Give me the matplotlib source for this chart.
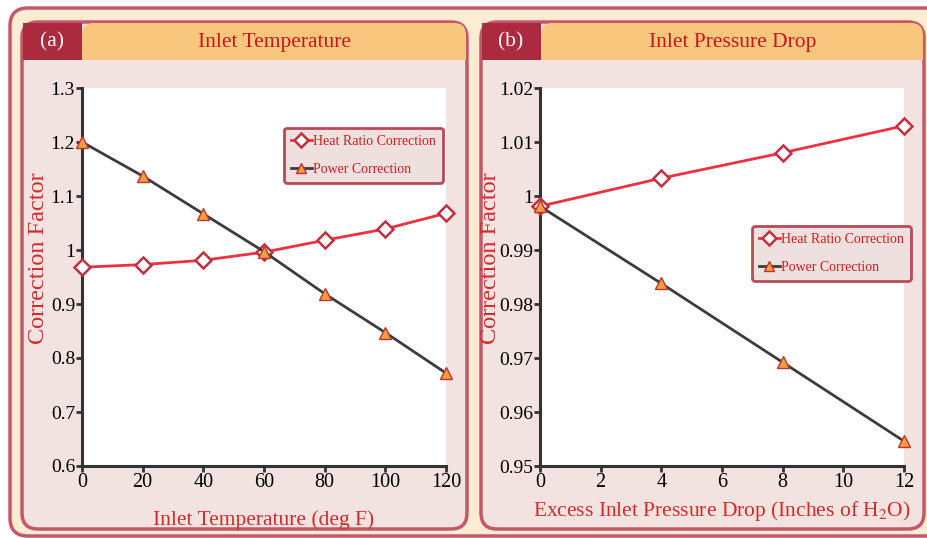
import matplotlib
matplotlib.use("Agg")
import matplotlib.pyplot as plt
from matplotlib.patches import FancyBboxPatch, Rectangle
from matplotlib.ticker import FuncFormatter

plt.rcParams['font.family'] = 'Liberation Serif'
plt.rcParams['mathtext.fontset'] = 'stix'

# panel (a): inlet temperature
temp_f = [0, 20, 40, 60, 80, 100, 120]
temp_heat = [0.968, 0.973, 0.981, 0.996, 1.018, 1.039, 1.068]
temp_power = [1.200, 1.137, 1.067, 0.997, 0.919, 0.847, 0.772]

# panel (b): inlet pressure drop
drop_in = [0, 4, 8, 12]
drop_heat = [0.9981, 1.0033, 1.0080, 1.0130]
drop_power = [0.9981, 0.9838, 0.9692, 0.9546]

W, H = 928, 538
fig = plt.figure(figsize=(W / 100, H / 100), dpi=100)
fig.patch.set_facecolor('white')

RED = '#d42a2a'
FRAME = '#c25868'

# background decoration in pixel coords
bg = fig.add_axes([0, 0, 1, 1], zorder=0)
bg.set_xlim(0, W)
bg.set_ylim(H, 0)
bg.axis('off')

bg.add_patch(FancyBboxPatch((10, 8), W + 20, 528, boxstyle='round,pad=0,rounding_size=18',
                            facecolor='#fdebd2', edgecolor=FRAME, lw=2.5))
panels = [(22, 467, '(a)', 'Inlet Temperature'), (481, 924, '(b)', 'Inlet Pressure Drop')]
for x0, x1, tag, title in panels:
    bg.add_patch(FancyBboxPatch((x0, 22), x1 - x0, 507, boxstyle='round,pad=0,rounding_size=16',
                                facecolor='#f2e3e0', edgecolor=FRAME, lw=2.5))
    bg.add_patch(Rectangle((x0 + 1, 23), 59, 37, facecolor='#ab2a3d', edgecolor='none'))
    bg.add_patch(FancyBboxPatch((x0 + 60, 23), x1 - x0 - 61, 37, boxstyle='round,pad=0,rounding_size=12',
                                facecolor='#f9c67d', edgecolor='none'))
    bg.add_patch(Rectangle((x0 + 60, 42), x1 - x0 - 61, 18, facecolor='#f9c67d', edgecolor='none'))
    bg.text(x0 + 30, 42, tag, color='white', fontsize=15.5, ha='center', va='center')
    bg.text((x0 + 60 + x1) / 2, 42, title, color='#c8161e', fontsize=15.5, ha='center', va='center')


def style(ax, xlim, ylim, xticks, yticks, xlabel, xpad, ylab_x):
    ax.set_facecolor('white')
    ax.set_xlim(*xlim)
    ax.set_ylim(*ylim)
    ax.set_xticks(xticks)
    ax.set_yticks(yticks)
    fmt = FuncFormatter(lambda v, p: ('%.2f' % v).rstrip('0').rstrip('.'))
    ax.yaxis.set_major_formatter(fmt)
    for s in ['top', 'right']:
        ax.spines[s].set_visible(False)
    for s in ['left', 'bottom']:
        ax.spines[s].set_color('#333333')
        ax.spines[s].set_linewidth(2.2)
    ax.tick_params(width=2, length=4, color='#333333', pad=1)
    ax.tick_params(axis='x', labelsize=14.5)
    ax.tick_params(axis='y', labelsize=14)
    ax.set_xlabel(xlabel, color=RED, fontsize=15.5, labelpad=xpad)
    ax.set_ylabel('Correction Factor', color=RED, fontsize=17.5)
    ax.yaxis.set_label_coords(ylab_x, 0.55)


def draw(ax, x, heat, power):
    ax.plot(x, heat, color='#ec3040', lw=2, marker='D', ms=8, mfc='white', mec='#c03040',
            mew=1.8, label='Heat Ratio Correction', zorder=3, clip_on=False)
    ax.plot(x, power, color='#3c3c3c', lw=2, marker='^', ms=8.5, mfc='#eea040', mec='#c83030',
            mew=1.0, label='Power Correction', zorder=4, clip_on=False)


def legend(ax, anchor):
    leg = ax.legend(loc='upper left', bbox_to_anchor=anchor, fontsize=10, labelcolor='#d41a1a',
                    frameon=True, fancybox=True, facecolor='#eee0de', edgecolor='#b84a5a',
                    framealpha=1, handlelength=1.5, handletextpad=0.1, labelspacing=1.1,
                    borderpad=0.5, borderaxespad=0, markerscale=0.9)
    leg.get_frame().set_linewidth(2)


ax1 = fig.add_axes([82 / W, 1 - 466 / H, 364 / W, 378 / H], zorder=2)
draw(ax1, temp_f, temp_heat, temp_power)
style(ax1, (0, 120), (0.6, 1.3), temp_f, [0.6, 0.7, 0.8, 0.9, 1.0, 1.1, 1.2, 1.3],
      'Inlet Temperature (deg F)', 13, -0.09)
legend(ax1, (0.555, 0.895))

ax2 = fig.add_axes([540 / W, 1 - 466 / H, 364 / W, 378 / H], zorder=2)
draw(ax2, drop_in, drop_heat, drop_power)
style(ax2, (0, 12), (0.95, 1.02), [0, 2, 4, 6, 8, 10, 12],
      [0.95, 0.96, 0.97, 0.98, 0.99, 1.0, 1.01, 1.02],
      'Excess Inlet Pressure Drop (Inches of H$_2$O)', 5, -0.108)
legend(ax2, (0.582, 0.635))

fig.savefig('out.png', dpi=100)
